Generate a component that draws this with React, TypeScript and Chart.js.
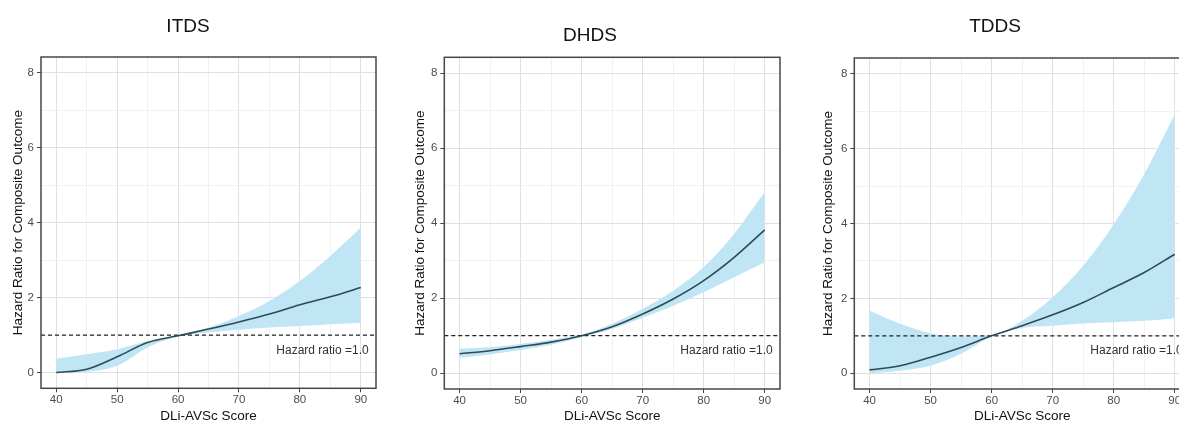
import React, { useEffect, useRef } from "react";
import { Chart, registerables } from "chart.js";

Chart.register(...registerables);

// ---- data ----
const scoreX = [40, 45, 50, 55, 60, 65, 70, 75, 80, 85, 90];
const xAxisMin = 37.5;
const xAxisMax = 92.5;
const yAxisMin = -0.42;
const yAxisMax = 8.42;
const xGridValues = [40, 45, 50, 55, 60, 65, 70, 75, 80, 85, 90];
const yGridValues = [0, 1, 2, 3, 4, 5, 6, 7, 8];
const xTickLabels = ["40", "50", "60", "70", "80", "90"];
const yTickLabels = ["0", "2", "4", "6", "8"];
const refHR = 1.0;
const refLabel = "Hazard ratio =1.0";
const refLabelX = 91.3;
const refLabelY = 0.59;

const panelTitles = ["ITDS", "DHDS", "TDDS"];

const itdsHR = [0.0, 0.09, 0.42, 0.8, 0.98, 1.16, 1.35, 1.56, 1.81, 2.02, 2.27];
const itdsUpper = [0.37, 0.49, 0.62, 0.84, 1.0, 1.2, 1.51, 1.91, 2.44, 3.11, 3.87];
const itdsLower = [0.0, 0.02, 0.18, 0.67, 0.96, 1.07, 1.14, 1.2, 1.24, 1.29, 1.33];

const dhdsHR = [0.52, 0.6, 0.71, 0.83, 1.0, 1.24, 1.58, 1.98, 2.47, 3.09, 3.82];
const dhdsUpper = [0.65, 0.69, 0.78, 0.89, 1.03, 1.32, 1.72, 2.2, 2.83, 3.72, 4.83];
const dhdsLower = [0.41, 0.5, 0.62, 0.76, 0.96, 1.18, 1.48, 1.8, 2.16, 2.56, 2.96];

const tddsHR = [0.09, 0.2, 0.43, 0.69, 1.0, 1.27, 1.56, 1.89, 2.29, 2.69, 3.18];
const tddsUpper = [1.67, 1.32, 1.07, 0.98, 1.02, 1.4, 2.03, 2.87, 3.98, 5.32, 6.92];
const tddsLower = [0.0, 0.07, 0.2, 0.52, 0.98, 1.21, 1.27, 1.33, 1.36, 1.4, 1.47];

const xTitle = "DLi-AVSc Score";
const yTitle = "Hazard Ratio for Composite Outcome";

// ---- styles ----
const FONT = "'Liberation Sans', Arial, Helvetica, sans-serif";
const BAND = "#c0e6f6";
const LINE = "#2d4a55";
const CANVAS_H = 426;

type Layout = {
  left: number;
  width: number;
  yAxisW: number;
  padR: number;
  titlePadTop: number;
  titlePadBottom: number;
  yTitlePad: number;
  chartBottom: number;
};

const layouts: Layout[] = [
  { left: 0, width: 412, yAxisW: 41, padR: 36, titlePadTop: 15.6, titlePadBottom: 18.6, yTitlePad: 9.9, chartBottom: 388.3 },
  { left: 400, width: 430, yAxisW: 44.3, padR: 50, titlePadTop: 24.6, titlePadBottom: 9.9, yTitlePad: 11.9, chartBottom: 389 },
  { left: 800, width: 418, yAxisW: 54.3, padR: 28, titlePadTop: 15.6, titlePadBottom: 19.6, yTitlePad: 19.9, chartBottom: 389 },
];

const series = [
  { hr: itdsHR, upper: itdsUpper, lower: itdsLower },
  { hr: dhdsHR, upper: dhdsUpper, lower: dhdsLower },
  { hr: tddsHR, upper: tddsUpper, lower: tddsLower },
];

const toPts = (ys: number[]) => scoreX.map((x, i) => ({ x, y: ys[i] }));

const boxPlugin = {
  id: "panelBox",
  afterDatasetsDraw(chart: any) {
    const { ctx, chartArea } = chart;
    const { left, top, right, bottom } = chartArea;
    const xs = chart.scales.x;
    const ys = chart.scales.y;
    ctx.save();
    ctx.font = `12px ${FONT}`;
    ctx.fillStyle = "#333333";
    ctx.textAlign = "right";
    ctx.textBaseline = "middle";
    ctx.fillText(refLabel, xs.getPixelForValue(refLabelX), ys.getPixelForValue(refLabelY));
    ctx.strokeStyle = "#474747";
    ctx.lineWidth = 1.5;
    ctx.strokeRect(left, top, right - left, bottom - top);
    ctx.restore();
  },
};

function Panel({ idx }: { idx: number }) {
  const ref = useRef<HTMLCanvasElement | null>(null);
  const lay = layouts[idx];
  const s = series[idx];

  useEffect(() => {
    if (!ref.current) return;
    const isMajorX = (v: any) => xTickLabels.includes(String(v));
    const isMajorY = (v: any) => yTickLabels.includes(String(v));
    const gridOpts = (isMajor: (v: any) => boolean) => ({
      drawTicks: true,
      tickLength: 4,
      color: (c: any) => (isMajor(c.tick?.value) ? "#e0e0e0" : "#eeeeee"),
      lineWidth: (c: any) => (isMajor(c.tick?.value) ? 1 : 0.8),
      tickColor: (c: any) => (isMajor(c.tick?.value) ? "#444444" : "rgba(0,0,0,0)"),
    });
    const chart = new Chart(ref.current, {
      type: "line",
      data: {
        datasets: [
          {
            label: "HR",
            data: toPts(s.hr),
            borderColor: LINE,
            borderWidth: 1.6,
            pointRadius: 0,
            fill: false,
            cubicInterpolationMode: "monotone",
          },
          {
            label: "ref",
            data: [
              { x: xAxisMin, y: refHR },
              { x: xAxisMax, y: refHR },
            ],
            borderColor: "#222222",
            borderWidth: 1.2,
            borderDash: [4, 3],
            pointRadius: 0,
            fill: false,
          },
          {
            label: "upper",
            data: toPts(s.upper),
            borderWidth: 0,
            borderColor: "rgba(0,0,0,0)",
            backgroundColor: BAND,
            pointRadius: 0,
            fill: "+1",
            cubicInterpolationMode: "monotone",
          },
          {
            label: "lower",
            data: toPts(s.lower),
            borderWidth: 0,
            borderColor: "rgba(0,0,0,0)",
            pointRadius: 0,
            fill: false,
            cubicInterpolationMode: "monotone",
          },
        ],
      } as any,
      options: {
        animation: false,
        responsive: false,
        devicePixelRatio: 1,
        layout: { padding: { left: 0, right: lay.padR, top: 0, bottom: 0 } },
        plugins: {
          legend: { display: false },
          tooltip: { enabled: false },
          title: {
            display: true,
            text: panelTitles[idx],
            color: "#111111",
            font: { family: FONT, size: 19, weight: "normal" },
            padding: { top: lay.titlePadTop, bottom: lay.titlePadBottom },
          },
        },
        scales: {
          x: {
            type: "linear",
            min: xAxisMin,
            max: xAxisMax,
            border: { display: false },
            afterBuildTicks: (sc: any) => {
              sc.ticks = xGridValues.map((v) => ({ value: v }));
            },
            afterFit: (sc: any) => {
              sc.height = CANVAS_H - lay.chartBottom;
            },
            ticks: {
              autoSkip: false,
              maxRotation: 0,
              minRotation: 0,
              padding: 1,
              color: "#4d4d4d",
              font: { family: FONT, size: 11.5 },
              callback: (v: any) => (isMajorX(v) ? String(v) : ""),
            },
            grid: gridOpts(isMajorX),
            title: {
              display: true,
              text: xTitle,
              color: "#111111",
              font: { family: FONT, size: 13.5 },
              padding: { top: 0, bottom: 1.2 },
            },
          },
          y: {
            type: "linear",
            min: yAxisMin,
            max: yAxisMax,
            border: { display: false },
            afterBuildTicks: (sc: any) => {
              sc.ticks = yGridValues.map((v) => ({ value: v }));
            },
            afterFit: (sc: any) => {
              sc.width = lay.yAxisW;
            },
            ticks: {
              autoSkip: false,
              padding: 3,
              color: "#4d4d4d",
              font: { family: FONT, size: 11.5 },
              callback: (v: any) => (isMajorY(v) ? String(v) : ""),
            },
            grid: gridOpts(isMajorY),
            title: {
              display: true,
              text: yTitle,
              color: "#111111",
              font: { family: FONT, size: 13.5 },
              padding: { top: lay.yTitlePad, bottom: 0 },
            },
          },
        },
      } as any,
      plugins: [boxPlugin],
    });
    return () => chart.destroy();
  }, [idx]);

  return (
    <canvas
      ref={ref}
      width={lay.width}
      height={CANVAS_H}
      style={{ position: "absolute", left: lay.left, top: 0, width: lay.width, height: CANVAS_H }}
    />
  );
}

export default function App() {
  return (
    <div
      style={{
        position: "absolute",
        left: 0,
        top: 0,
        width: 1179,
        height: 423,
        overflow: "hidden",
        background: "#ffffff",
      }}
    >
      {panelTitles.map((_, i) => (
        <Panel key={i} idx={i} />
      ))}
    </div>
  );
}
